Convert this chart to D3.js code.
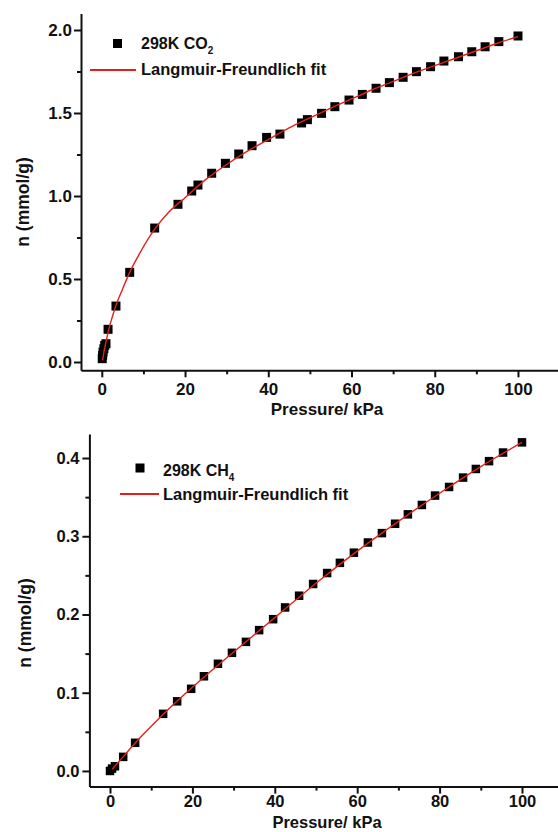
<!DOCTYPE html>
<html>
<head>
<meta charset="utf-8">
<script src="https://cdnjs.cloudflare.com/ajax/libs/d3/7.8.5/d3.min.js"></script>
<style>
  body { margin: 0; background: #fff; }
  svg text { font-family: "Liberation Sans", Arial, sans-serif; font-weight: bold; fill: #111; }
</style>
</head>
<body>
<div id="chart"></div>
<script>

// 298K CO2 measured points (kPa, mmol/g)
var co2P = [0.1, 0.2, 0.3, 0.5, 0.7, 1.0, 1.5, 3.4, 6.7, 12.7, 18.3, 21.6, 23.1, 26.4, 29.7, 32.9, 36.1, 39.6,
            42.8, 48.0, 49.4, 52.8, 56.0, 59.4, 62.6, 65.9, 69.1, 72.4, 75.6, 79.0, 82.2, 85.7, 88.9, 92.1, 95.4, 100.0];
var co2N = [0.02, 0.04, 0.06, 0.08, 0.10, 0.11, 0.197, 0.337, 0.54, 0.807, 0.95, 1.03, 1.066, 1.137, 1.197, 1.253, 1.303, 1.353,
            1.373, 1.44, 1.46, 1.498, 1.538, 1.578, 1.612, 1.649, 1.683, 1.715, 1.749, 1.779, 1.813, 1.839, 1.869, 1.899, 1.93, 1.964];
// Langmuir-Freundlich fit
var co2FitP = [0.2, 0.5, 1.0, 1.7, 2.5, 3.4, 5, 6.7, 9, 12.7, 16, 20, 25, 30, 35, 40, 45, 50, 55, 60, 65, 70, 75, 80, 85, 90, 95, 100];
var co2FitN = [0.01, 0.06, 0.12, 0.2, 0.27, 0.34, 0.44, 0.54, 0.65, 0.8, 0.9, 0.99, 1.1, 1.19, 1.27, 1.34, 1.41, 1.47,
               1.53, 1.585, 1.64, 1.69, 1.74, 1.785, 1.83, 1.875, 1.92, 1.96];

// 298K CH4 measured points
var ch4P = [0.0, 0.5, 1.2, 3.2, 6.1, 12.9, 16.3, 19.7, 22.8, 26.2, 29.6, 33.0, 36.2, 39.6, 42.5, 45.9, 49.3, 52.7, 55.8,
            59.2, 62.6, 66.0, 69.2, 72.3, 75.7, 78.9, 82.3, 85.7, 88.8, 92.0, 95.4, 100.0];
var ch4N = [0.0, 0.003, 0.006, 0.018, 0.036, 0.073, 0.089, 0.105, 0.121, 0.137, 0.151, 0.165, 0.18, 0.194, 0.209, 0.224,
            0.239, 0.253, 0.266, 0.279, 0.292, 0.304, 0.316, 0.328, 0.34, 0.352, 0.363, 0.375, 0.386, 0.396, 0.407, 0.42];
var ch4FitP = [0.5, 3, 6, 10, 15, 20, 30, 40, 50, 60, 70, 80, 90, 100];
var ch4FitN = [0.002, 0.017, 0.035, 0.057, 0.083, 0.107, 0.152, 0.196, 0.24, 0.281, 0.319, 0.355, 0.389, 0.42];

var xTicks = [0, 20, 40, 60, 80, 100];
var xMinor = [10, 30, 50, 70, 90];
var co2YTicks = [0.0, 0.5, 1.0, 1.5, 2.0];
var co2YMinor = [0.25, 0.75, 1.25, 1.75];
var ch4YTicks = [0.0, 0.1, 0.2, 0.3, 0.4];
var ch4YMinor = [0.05, 0.15, 0.25, 0.35];

var width = 558, height = 832;
var red = "#e3201b";

var svg = d3.select("#chart").append("svg")
    .attr("width", width)
    .attr("height", height);

function drawPanel(o) {
    var x = d3.scaleLinear().domain([-5, 110]).range(o.xRange);
    var y = d3.scaleLinear().domain(o.yDomain).range(o.yRange);
    var g = svg.append("g");

    // minor ticks first, then the main axes on top
    g.append("g")
        .attr("transform", "translate(0," + o.yRange[0] + ")")
        .call(d3.axisBottom(x).tickValues(xMinor).tickSize(4).tickFormat(""))
        .call(s => s.select(".domain").remove());
    g.append("g")
        .attr("transform", "translate(" + o.xRange[0] + ",0)")
        .call(d3.axisLeft(y).tickValues(o.yMinor).tickSize(4).tickFormat(""))
        .call(s => s.select(".domain").remove());

    var xa = g.append("g")
        .attr("transform", "translate(0," + o.yRange[0] + ")")
        .call(d3.axisBottom(x).tickValues(xTicks).tickSize(7).tickSizeOuter(0).tickPadding(o.xPad).tickFormat(d3.format("d")));
    var ya = g.append("g")
        .attr("transform", "translate(" + o.xRange[0] + ",0)")
        .call(d3.axisLeft(y).tickValues(o.yTicks).tickSize(7).tickSizeOuter(0).tickPadding(o.yPad).tickFormat(d3.format(".1f")));

    g.selectAll(".domain, .tick line").attr("stroke", "#111").attr("stroke-width", 2);
    [xa, ya].forEach(function (a) {
        a.attr("font-family", null).attr("font-size", null);
        a.selectAll("text").style("font-size", o.tickFs + "px");
    });

    // fit curve
    var line = d3.line()
        .x(function (d) { return x(d[0]); })
        .y(function (d) { return y(d[1]); })
        .curve(d3.curveMonotoneX);

    // data squares
    var s = o.sq;
    g.append("g")
        .selectAll("rect")
        .data(d3.zip(o.P, o.N))
        .enter()
        .append("rect")
        .attr("x", function (d) { return x(d[0]) - s / 2; })
        .attr("y", function (d) { return y(d[1]) - s / 2; })
        .attr("width", s)
        .attr("height", s)
        .attr("fill", "#000");
    // the red fit runs over the squares, as in the original
    g.append("path")
        .datum(d3.zip(o.fitP, o.fitN))
        .attr("d", line)
        .attr("fill", "none")
        .attr("stroke", red)
        .attr("stroke-width", 1.4);

    // legend
    var L = o.legend;
    g.append("rect")
        .attr("x", L.sx - 4.5).attr("y", L.sy - 4.5)
        .attr("width", 9).attr("height", 9)
        .attr("fill", "#000");
    var t1 = g.append("text")
        .attr("x", L.tx).attr("y", L.t1y)
        .style("font-size", "16px")
        .text(L.label);
    t1.append("tspan")
        .attr("dy", 5)
        .style("font-size", "10px")
        .text(L.sub);
    g.append("line")
        .attr("x1", L.lx1).attr("x2", L.lx2)
        .attr("y1", L.ly).attr("y2", L.ly)
        .attr("stroke", red).attr("stroke-width", 1.8);
    g.append("text")
        .attr("x", L.tx).attr("y", L.t2y)
        .style("font-size", "16.5px")
        .text("Langmuir-Freundlich fit");

    // axis titles
    g.append("text")
        .attr("x", 327).attr("y", o.xTitleY)
        .attr("text-anchor", "middle")
        .style("font-size", o.titleFs + "px")
        .text("Pressure/ kPa");
    g.append("text")
        .attr("transform", "translate(" + o.yTitleX + "," + o.yTitleY + ") rotate(-90)")
        .attr("text-anchor", "middle")
        .style("font-size", "17.5px")
        .text("n (mmol/g)");
}

drawPanel({
    P: co2P, N: co2N, fitP: co2FitP, fitN: co2FitN,
    xRange: [81, 559.6], yDomain: [-0.05, 2.1], yRange: [370.3, 13.4],
    yTicks: co2YTicks, yMinor: co2YMinor, xPad: 6, yPad: 2, sq: 9, tickFs: 17, titleFs: 17,
    legend: { sx: 117.5, sy: 43.5, tx: 141, t1y: 49, label: "298K CO", sub: "2", lx1: 90, lx2: 136, ly: 70, t2y: 75 },
    xTitleY: 415, yTitleX: 29, yTitleY: 202
});

drawPanel({
    P: ch4P, N: ch4N, fitP: ch4FitP, fitN: ch4FitN,
    xRange: [89.4, 563.2], yDomain: [-0.02, 0.4307], yRange: [786.6, 434],
    yTicks: ch4YTicks, yMinor: ch4YMinor, xPad: 2, yPad: 3, sq: 8.5, tickFs: 16.5, titleFs: 16.5,
    legend: { sx: 140, sy: 468, tx: 163, t1y: 476, label: "298K CH", sub: "4", lx1: 120, lx2: 159, ly: 494, t2y: 500 },
    xTitleY: 828, yTitleX: 31, yTitleY: 623
});

</script>
</body>
</html>
